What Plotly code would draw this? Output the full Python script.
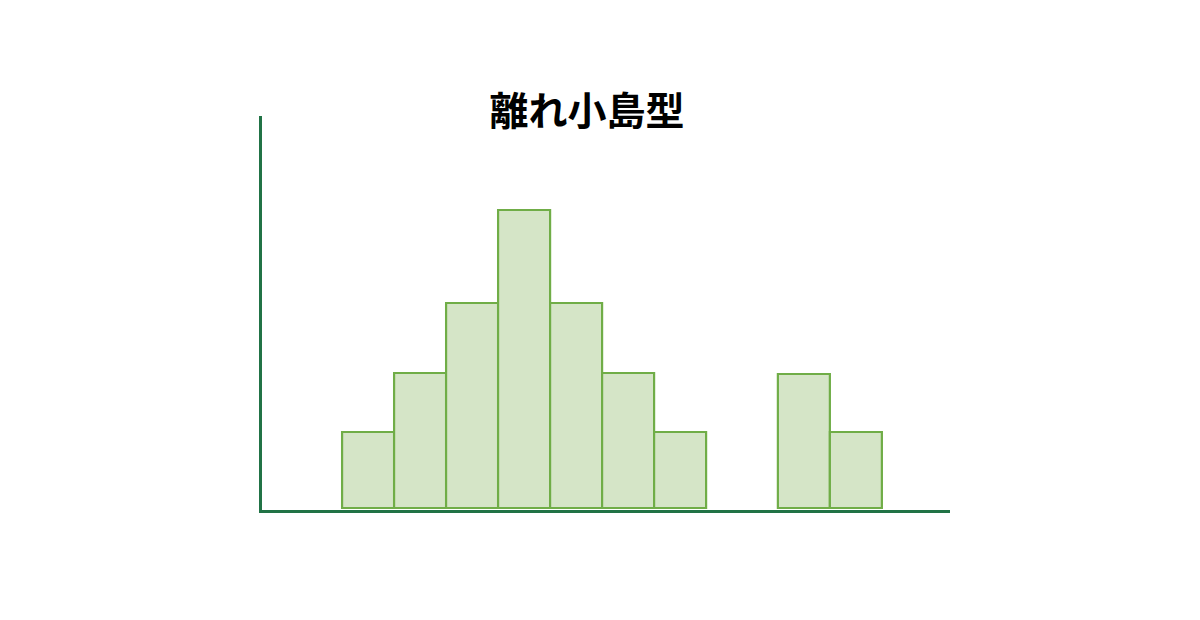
import plotly.graph_objects as go

# Bin centers (in bin-width units) and frequencies
bin_centers = [1, 2, 3, 4, 5, 6, 7, 9.38, 10.38]
frequencies = [7.6, 13.5, 20.5, 29.8, 20.5, 13.5, 7.6, 13.4, 7.6]
title_text = "離れ小島型"

fig = go.Figure(
    go.Bar(
        x=bin_centers,
        y=frequencies,
        width=1,
        marker=dict(color="#D5E5C7", line=dict(color="#70AD47", width=2.2)),
        hoverinfo="skip",
    )
)

fig.update_layout(
    width=1200,
    height=620,
    paper_bgcolor="white",
    plot_bgcolor="white",
    margin=dict(l=254, r=258, t=108, b=118),
    showlegend=False,
    title=dict(
        text=f"<b>{title_text}</b>",
        x=0.4825,
        xanchor="center",
        y=0.833,
        yanchor="middle",
        font=dict(family="Noto Sans CJK JP", size=39, color="black"),
    ),
    xaxis=dict(
        range=[-1.04, 12.19],
        showline=True,
        linecolor="#217346",
        linewidth=3,
        showgrid=False,
        zeroline=False,
        showticklabels=False,
        ticks="",
    ),
    yaxis=dict(
        range=[-0.2, 39.2],
        showline=True,
        linecolor="#217346",
        linewidth=3,
        showgrid=False,
        zeroline=False,
        showticklabels=False,
        ticks="",
    ),
)

fig.write_html("out.html")
